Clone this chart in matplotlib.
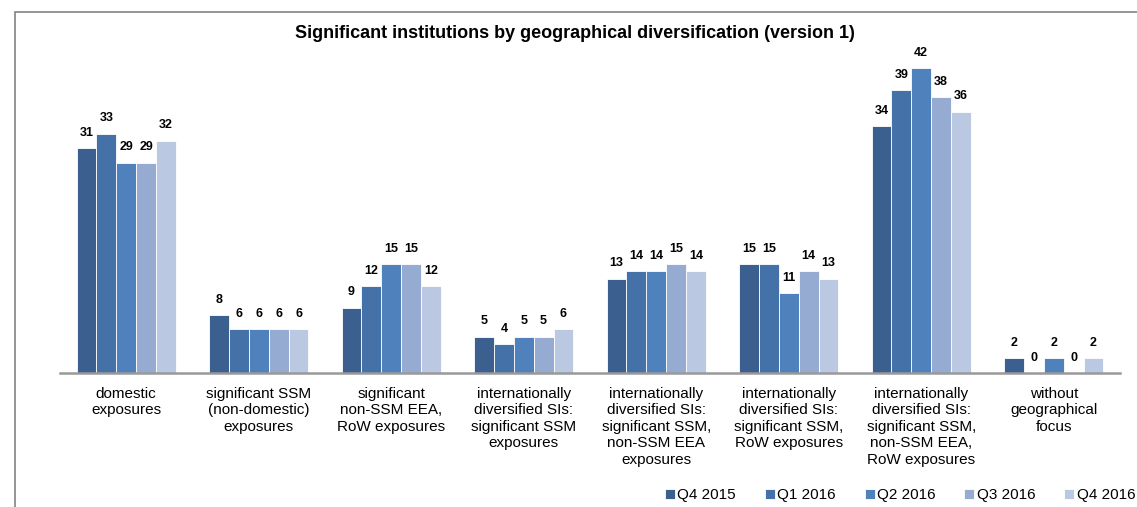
import numpy as np
import matplotlib.pyplot as plt
from matplotlib.patches import Rectangle

plt.rcParams['font.family'] = ['Liberation Sans', 'DejaVu Sans']

categories = [
    "domestic\nexposures",
    "significant SSM\n(non-domestic)\nexposures",
    "significant\nnon-SSM EEA,\nRoW exposures",
    "internationally\ndiversified SIs:\nsignificant SSM\nexposures",
    "internationally\ndiversified SIs:\nsignificant SSM,\nnon-SSM EEA\nexposures",
    "internationally\ndiversified SIs:\nsignificant SSM,\nRoW exposures",
    "internationally\ndiversified SIs:\nsignificant SSM,\nnon-SSM EEA,\nRoW exposures",
    "without\ngeographical\nfocus",
]
series_names = ["Q4 2015", "Q1 2016", "Q2 2016", "Q3 2016", "Q4 2016"]
q4_2015 = [31, 8, 9, 5, 13, 15, 34, 2]
q1_2016 = [33, 6, 12, 4, 14, 15, 39, 0]
q2_2016 = [29, 6, 15, 5, 14, 11, 42, 2]
q3_2016 = [29, 6, 15, 5, 15, 14, 38, 0]
q4_2016 = [32, 6, 12, 6, 14, 13, 36, 2]
series = [q4_2015, q1_2016, q2_2016, q3_2016, q4_2016]
colors = ["#3b5f8e", "#4472a8", "#4f81bd", "#95abd2", "#bac8e2"]

W, H = 1137, 507
fig = plt.figure(figsize=(W / 100, H / 100), dpi=100)
# outer frame of the chart (left and top edges visible, rest cut off)
fig.patches.append(Rectangle((15 / W, -0.05), 1.2, 1 - 12 / H + 0.05,
                             transform=fig.transFigure, fill=False,
                             edgecolor="#8c8c8c", linewidth=1.3))

ax = fig.add_axes([60 / W, (H - 373) / H, 1060 / W, 333 / H])
x = np.arange(len(categories))
bw = 0.15
for i, (name, vals, c) in enumerate(zip(series_names, series, colors)):
    pos = x + (i - 2) * bw
    ax.bar(pos, vals, width=bw, color=c, edgecolor="white", linewidth=0.6, label=name)
    for p, v in zip(pos, vals):
        ax.text(p, v + 1.3, str(v), ha="center", va="bottom",
                fontsize=9, fontweight="bold")

ax.set_xlim(-0.5, len(categories) - 0.5)
ax.set_ylim(0, 45.9)
ax.set_yticks([])
ax.set_xticks(x)
ax.set_xticklabels(categories, fontsize=11, linespacing=1.22)
ax.tick_params(axis="x", length=0, pad=10)
for s in ["top", "right", "left"]:
    ax.spines[s].set_visible(False)
ax.spines["bottom"].set_color("#999999")
ax.spines["bottom"].set_linewidth(1.8)

fig.text(575 / W, 1 - 33 / H, "Significant institutions by geographical diversification (version 1)",
         ha="center", va="center", fontsize=13, fontweight="bold")

fig.legend(loc="center", bbox_to_anchor=(900 / W, 1 - 495 / H), ncol=5, frameon=False,
           fontsize=11, handlelength=0.65, handleheight=0.65, handletextpad=0.15,
           columnspacing=1.9)

fig.savefig("out.png", dpi=100)
